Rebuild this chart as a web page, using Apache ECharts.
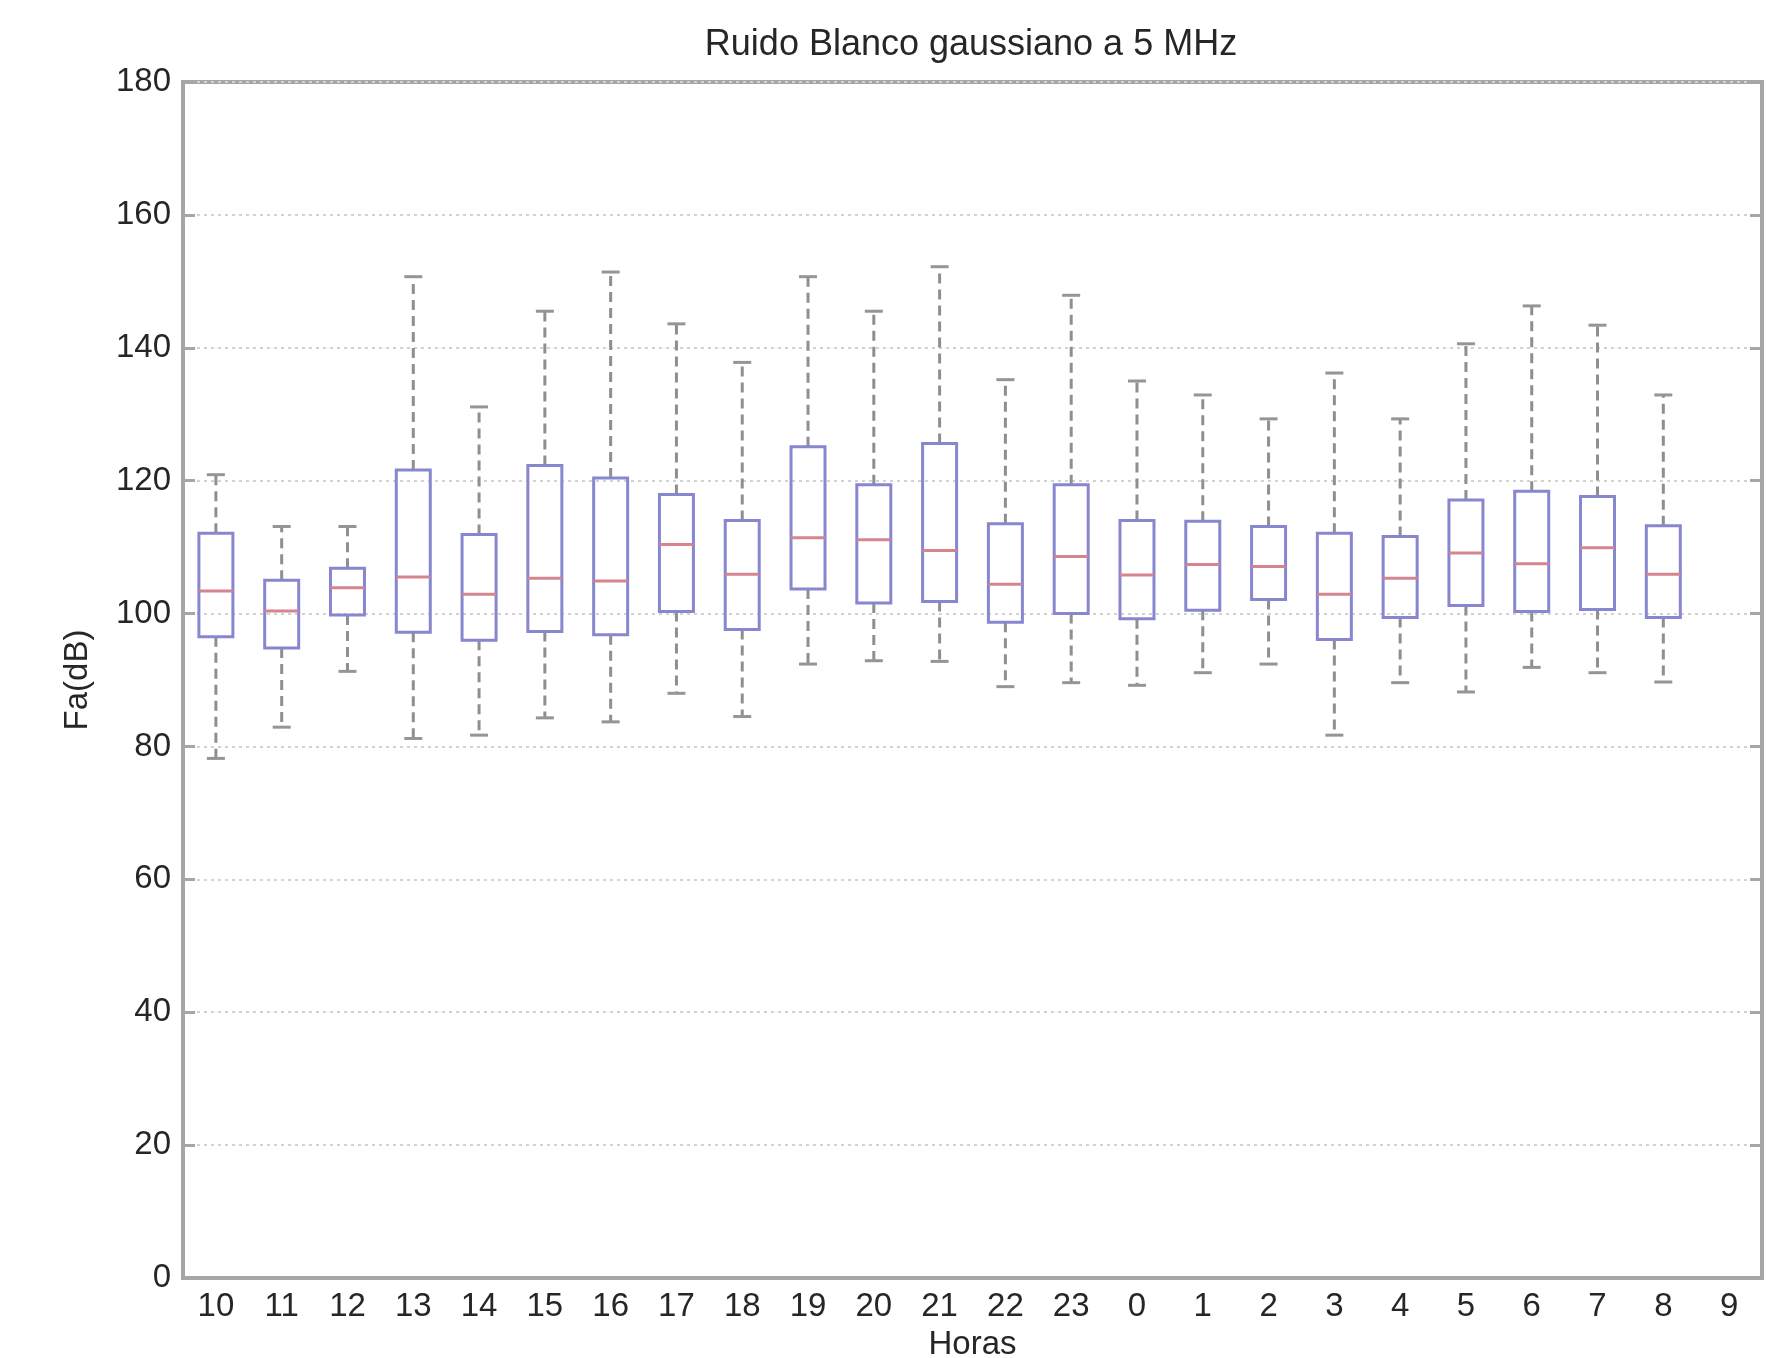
<!DOCTYPE html>
<html>
<head>
<meta charset="utf-8">
<script src="https://cdn.jsdelivr.net/npm/echarts@6/dist/echarts.min.js"></script>
<style>
html,body{margin:0;padding:0;background:#fff;}
#chart{width:1769px;height:1358px;}
</style>
</head>
<body>
<div id="chart"></div>
<script>
// Hours (x categories)
const categories = ['10','11','12','13','14','15','16','17','18','19','20','21','22','23','0','1','2','3','4','5','6','7','8','9'];
// Box statistics (dB); null = no data for that hour
const lowerWhisker = [78.2, 82.9, 91.3, 81.2, 81.7, 84.3, 83.7, 88.0, 84.5, 92.4, 92.9, 92.8, 89.0, 89.6, 89.2, 91.1, 92.4, 81.7, 89.6, 88.2, 91.9, 91.1, 89.7, null];
const q1Values     = [96.5, 94.8, 99.8, 97.2, 96.0, 97.3, 96.8, 100.3, 97.6, 103.7, 101.6, 101.8, 98.7, 100.0, 99.2, 100.5, 102.1, 96.1, 99.4, 101.2, 100.3, 100.6, 99.4, null];
const medianValues = [103.4, 100.4, 103.9, 105.5, 102.9, 105.3, 104.9, 110.4, 105.9, 111.4, 111.1, 109.5, 104.4, 108.6, 105.8, 107.4, 107.1, 102.9, 105.3, 109.1, 107.5, 109.9, 105.9, null];
const q3Values     = [112.1, 105.0, 106.8, 121.6, 111.9, 122.3, 120.4, 117.9, 114.0, 125.1, 119.4, 125.6, 113.5, 119.4, 114.0, 113.9, 113.1, 112.1, 111.6, 117.1, 118.4, 117.6, 113.2, null];
const upperWhisker = [120.9, 113.1, 113.1, 150.7, 131.1, 145.5, 151.4, 143.6, 137.8, 150.7, 145.5, 152.2, 135.2, 147.9, 135.0, 132.9, 129.3, 136.2, 129.3, 140.6, 146.3, 143.4, 132.9, null];
const yTicks = [0, 20, 40, 60, 80, 100, 120, 140, 160, 180];

const rows = [];
categories.forEach((c, i) => {
  if (medianValues[i] === null) return;
  rows.push([i, lowerWhisker[i], q1Values[i], medianValues[i], q3Values[i], upperWhisker[i]]);
});

const FONT = "'Liberation Sans', Arial, Helvetica, sans-serif";
const TXT = '#262626';
const FRAME = '#a6a6a6';
const BOX_HALF = 17;
const CAP_HALF = 9;

function renderBox(params, api) {
  const idx = api.value(0);
  const pLo = api.coord([idx, api.value(1)]);
  const pQ1 = api.coord([idx, api.value(2)]);
  const pMed = api.coord([idx, api.value(3)]);
  const pQ3 = api.coord([idx, api.value(4)]);
  const pHi = api.coord([idx, api.value(5)]);
  const x = pMed[0];
  const dash = {stroke: '#8f8f8f', lineWidth: 3, lineDash: [10, 6]};
  const cap = {stroke: '#959595', lineWidth: 3};
  return {
    type: 'group',
    children: [
      {type: 'line', shape: {x1: x, y1: pQ3[1], x2: x, y2: pHi[1]}, style: dash},
      {type: 'line', shape: {x1: x, y1: pQ1[1], x2: x, y2: pLo[1]}, style: dash},
      {type: 'line', shape: {x1: x - CAP_HALF, y1: pHi[1], x2: x + CAP_HALF, y2: pHi[1]}, style: cap},
      {type: 'line', shape: {x1: x - CAP_HALF, y1: pLo[1], x2: x + CAP_HALF, y2: pLo[1]}, style: cap},
      {type: 'rect', shape: {x: x - BOX_HALF, y: pQ3[1], width: BOX_HALF * 2, height: pQ1[1] - pQ3[1]},
        style: {fill: null, stroke: '#8787cf', lineWidth: 3}},
      {type: 'line', shape: {x1: x - BOX_HALF, y1: pMed[1], x2: x + BOX_HALF, y2: pMed[1]},
        style: {stroke: '#d6848e', lineWidth: 3}}
    ]
  };
}

const chart = echarts.init(document.getElementById('chart'), null, {renderer: 'canvas'});
chart.setOption({
  animation: false,
  backgroundColor: '#ffffff',
  title: {
    text: 'Ruido Blanco gaussiano a 5 MHz',
    left: 966,
    textAlign: 'center',
    top: 22,
    textStyle: {fontFamily: FONT, fontSize: 36, fontWeight: 'normal', color: TXT}
  },
  grid: {
    left: 183, right: 7, top: 82, bottom: 80,
    outerBoundsMode: 'none',
    containLabel: false,
    show: true, borderColor: FRAME, borderWidth: 4, backgroundColor: 'transparent'
  },
  xAxis: {
    type: 'category',
    data: categories,
    boundaryGap: true,
    name: 'Horas',
    nameLocation: 'middle',
    nameGap: 50,
    nameTextStyle: {fontFamily: FONT, fontSize: 33, color: TXT},
    axisLine: {show: true, lineStyle: {color: FRAME, width: 4}},
    axisTick: {show: false},
    axisLabel: {fontFamily: FONT, fontSize: 33, color: TXT, margin: 12},
    splitLine: {show: false}
  },
  yAxis: [{
    type: 'value',
    min: yTicks[0],
    max: yTicks[yTicks.length - 1],
    interval: yTicks[1] - yTicks[0],
    name: 'Fa(dB)',
    nameLocation: 'middle',
    nameGap: 89,
    nameTextStyle: {fontFamily: FONT, fontSize: 33, color: TXT},
    axisLine: {show: true, lineStyle: {color: FRAME, width: 4}},
    axisTick: {show: true, inside: true, length: 12, lineStyle: {color: FRAME, width: 3}},
    axisLabel: {fontFamily: FONT, fontSize: 33, color: TXT, margin: 12},
    splitLine: {show: true, lineStyle: {color: '#d2d2d2', width: 2, type: [3, 4]}}
  }, {
    type: 'value',
    position: 'right',
    min: yTicks[0],
    max: yTicks[yTicks.length - 1],
    interval: yTicks[1] - yTicks[0],
    axisLine: {show: true, lineStyle: {color: FRAME, width: 4}},
    axisTick: {show: true, inside: true, length: 12, lineStyle: {color: FRAME, width: 3}},
    axisLabel: {show: false},
    splitLine: {show: false}
  }],
  series: [{
    type: 'custom',
    renderItem: renderBox,
    data: rows,
    encode: {x: 0, y: [1, 2, 3, 4, 5]},
    z: 5
  }]
});
</script>
</body>
</html>
